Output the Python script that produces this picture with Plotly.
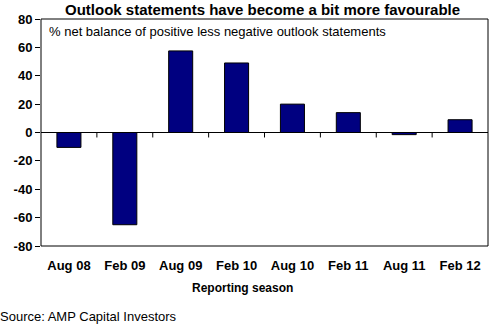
import plotly.graph_objects as go

categories = ["Aug 08", "Feb 09", "Aug 09", "Feb 10", "Aug 10", "Feb 11", "Aug 11", "Feb 12"]
values = [-10.5, -65, 57.5, 49, 20, 14, -1.5, 9]
y_ticks = [-80, -60, -40, -20, 0, 20, 40, 60, 80]
y_tick_labels = [str(v) for v in y_ticks]

FONT = "Arial, Liberation Sans, sans-serif"

fig = go.Figure()
fig.add_trace(go.Bar(
    x=list(range(len(categories))), y=values,
    marker=dict(color="#000080", line=dict(color="#000000", width=1)),
    width=0.43,
))

shapes = []
for i in range(len(categories) - 1):
    shapes.append(dict(type="line", xref="x", yref="y", x0=i + 0.5, x1=i + 0.5,
                       y0=0, y1=-3.5, line=dict(color="black", width=1)))
shapes.append(dict(type="rect", xref="paper", yref="paper", x0=0, x1=1, y0=0, y1=1,
                   line=dict(color="black", width=1)))

fig.update_layout(
    width=499, height=325,
    margin=dict(l=41, r=11, t=19, b=79),
    paper_bgcolor="white", plot_bgcolor="white",
    showlegend=False,
    font=dict(family=FONT, color="black"),
    xaxis=dict(range=[-0.5, len(categories) - 0.5], tickmode="array",
               tickvals=list(range(len(categories))), ticktext=categories,
               showgrid=False, zeroline=False, showline=False, ticks="",
               ticklabelstandoff=10,
               tickfont=dict(size=13, family=FONT, weight="bold")),
    yaxis=dict(range=[-80, 80], tickmode="array", tickvals=y_ticks, ticktext=y_tick_labels,
               showgrid=False, zeroline=True, zerolinecolor="black", zerolinewidth=1,
               showline=False, ticks="outside", ticklen=5, tickcolor="black",
               tickfont=dict(size=13, family=FONT, weight="bold")),
    shapes=shapes,
    annotations=[
        dict(text="<b>Outlook statements have become a bit more favourable</b>",
             xref="paper", yref="paper", x=0.495, y=1.0, yshift=10, showarrow=False,
             xanchor="center", yanchor="middle", font=dict(size=15, family=FONT)),
        dict(text="% net balance of positive less negative outlook statements",
             xref="paper", yref="paper", x=0.0, xshift=6, y=1.0, yshift=-12, showarrow=False,
             xanchor="left", yanchor="middle", font=dict(size=13, family=FONT)),
        dict(text="<b>Reporting season</b>",
             xref="paper", yref="paper", x=0.45, y=0.0, yshift=-42, showarrow=False,
             xanchor="center", yanchor="middle", font=dict(size=12, family=FONT)),
        dict(text="Source: AMP Capital Investors",
             xref="paper", yref="paper", x=0.0, xshift=-43, y=0.0, yshift=-70, showarrow=False,
             xanchor="left", yanchor="middle", font=dict(size=13, family=FONT)),
    ],
)

fig.write_html("out.html")
